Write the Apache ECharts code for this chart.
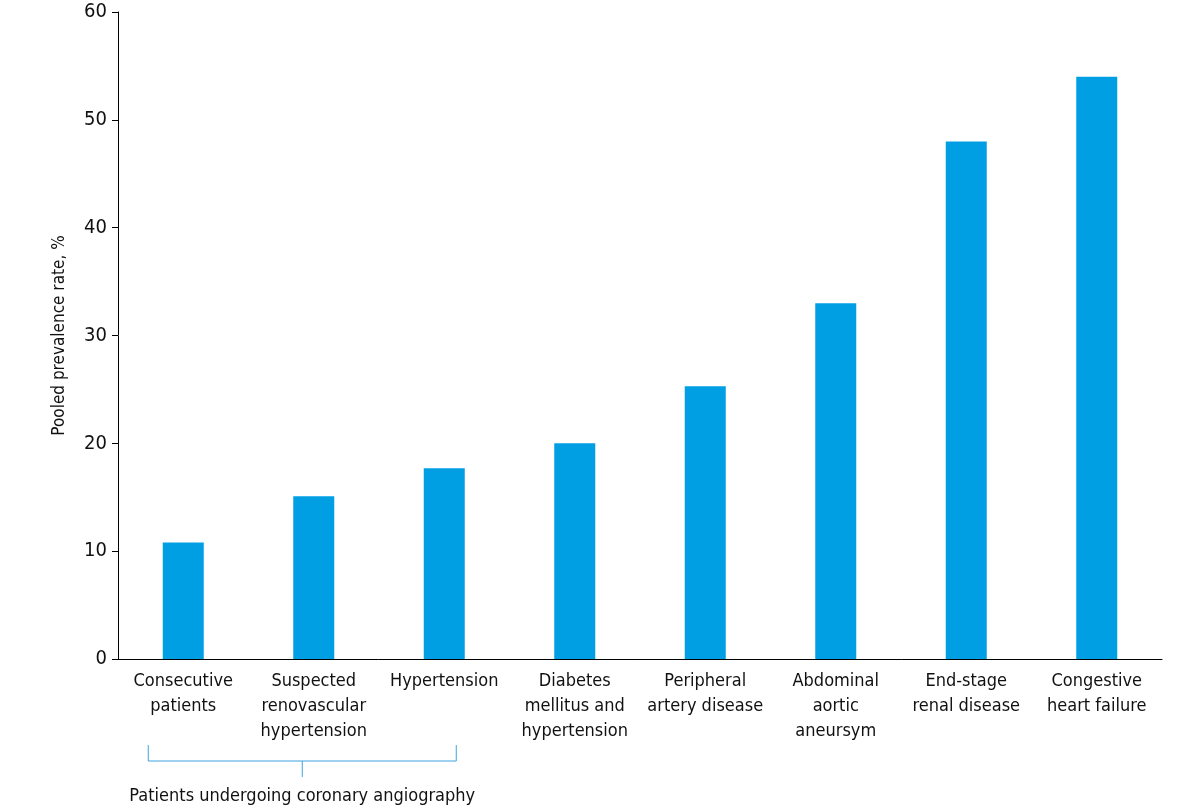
<!DOCTYPE html>
<html>
<head>
<meta charset="utf-8">
<script src="https://cdn.jsdelivr.net/npm/echarts@6/dist/echarts.min.js"></script>
<style>
  html, body { margin: 0; padding: 0; background: #fff; }
  #main { width: 1198px; height: 808px; }
</style>
</head>
<body>
<div id="main"></div>
<script>
const categories = [
    'Consecutive\npatients',
    'Suspected\nrenovascular\nhypertension',
    'Hypertension',
    'Diabetes\nmellitus and\nhypertension',
    'Peripheral\nartery disease',
    'Abdominal\naortic\naneursym',
    'End-stage\nrenal disease',
    'Congestive\nheart failure'
];
const prevalence = [10.8, 15.1, 17.7, 20, 25.3, 33, 48, 54];
const yTicks = [0, 10, 20, 30, 40, 50, 60];
const groupLabel = 'Patients undergoing coronary angiography';
const groupRange = [0, 2];

const FONT = '"Liberation Sans Narrow", "DejaVu Sans Condensed", "Roboto", sans-serif';
const BAR = '#009fe3';
const BRACKET = '#3ea4e0';

const chart = echarts.init(document.getElementById('main'));

chart.setOption({
    animation: false,
    grid: { left: 118, right: 36, top: 12, bottom: 149, containLabel: false },
    xAxis: {
        type: 'category',
        data: categories,
        axisLine: { lineStyle: { color: '#000', width: 1 } },
        axisTick: { alignWithLabel: true, length: 5, lineStyle: { color: '#000' } },
        axisLabel: {
            interval: 0, margin: 10, color: '#111',
            fontFamily: FONT, fontSize: 18, lineHeight: 25
        }
    },
    yAxis: {
        type: 'value',
        min: yTicks[0],
        max: yTicks[yTicks.length - 1],
        interval: 10,
        name: 'Pooled prevalence rate, %',
        nameLocation: 'middle',
        nameGap: 50,
        nameRotate: 90,
        nameTextStyle: { color: '#111', fontFamily: FONT, fontSize: 17 },
        axisLine: { show: true, lineStyle: { color: '#000', width: 1 } },
        axisTick: { show: true, length: 6, lineStyle: { color: '#000' } },
        splitLine: { show: false },
        axisLabel: { margin: 11, color: '#111', fontFamily: FONT, fontSize: 20 }
    },
    series: [{
        type: 'bar',
        data: prevalence,
        barWidth: 41,
        itemStyle: { color: BAR }
    }]
});

// bracket under the first group of categories
function drawBracket() {
    const x0 = chart.convertToPixel({ xAxisIndex: 0 }, groupRange[0]) - 35;
    const x1 = chart.convertToPixel({ xAxisIndex: 0 }, groupRange[1]) + 12;
    const xm = (x0 + x1) / 2;
    const yTop = 745, yBar = 761, yStem = 777;
    const line = (pts) => ({
        type: 'polyline',
        shape: { points: pts },
        style: { stroke: BRACKET, lineWidth: 1, fill: null }
    });
    chart.setOption({
        graphic: [
            line([[x0, yTop], [x0, yBar], [x1, yBar], [x1, yTop]]),
            line([[xm, yBar], [xm, yStem]]),
            {
                type: 'text',
                x: xm, y: 796,
                style: {
                    text: groupLabel, fill: '#111', font: '18px ' + FONT,
                    align: 'center', verticalAlign: 'middle'
                }
            }
        ]
    });
}
drawBracket();
</script>
</body>
</html>
